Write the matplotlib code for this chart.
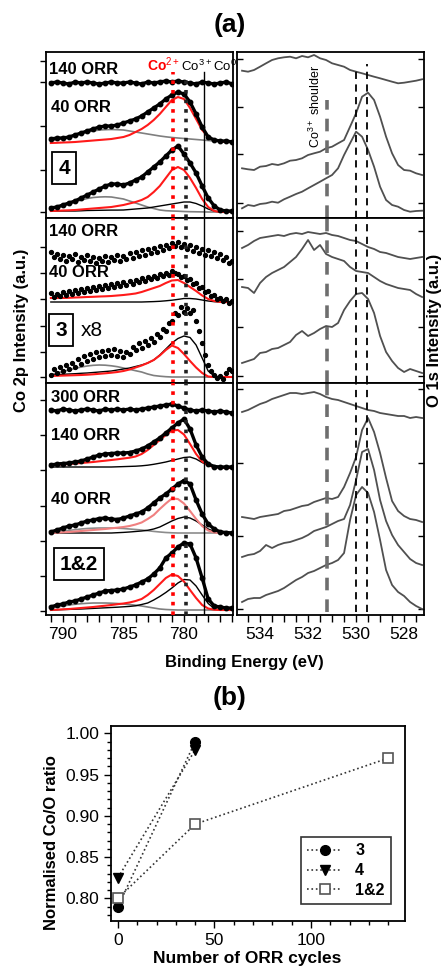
import matplotlib
matplotlib.use("Agg")
import matplotlib.pyplot as plt
from matplotlib.ticker import MultipleLocator

plt.rcParams['font.family'] = ['Liberation Sans', 'DejaVu Sans']
plt.rcParams['mathtext.fontset'] = 'custom'
plt.rcParams['mathtext.rm'] = 'Liberation Sans'
plt.rcParams['mathtext.bf'] = 'Liberation Sans:bold'

W, H = 446, 966

# ---------------- data: Co 2p (left column), energies in eV ----------------
e_co = [791.0 - 0.5 * i for i in range(31)]      # 791 ... 776
e_co_fine = [791.0 - 0.25 * i for i in range(61)]  # 791 ... 776 (noisy x8 sample)

# sample 4
s4_140 = [135, 136, 135, 134, 136, 135, 136, 135, 134, 135, 136, 135, 135, 136, 135, 134,
          136, 135, 136, 137, 136, 137, 136, 135, 134, 136, 135, 134, 135, 136, 134]
s4_40 = [79, 80, 80, 81, 83, 85, 87, 89, 91, 92, 92, 93, 95, 97, 99, 102, 106, 110, 114, 119,
         123, 126, 124, 116, 104, 91, 81, 78, 77, 77, 76]
s4_40_red = [75, 75.2, 75.5, 75.7, 76, 76.5, 77, 77.5, 78, 78.5, 79, 80, 81, 83, 86, 89, 93, 98,
             104, 111, 118, 121, 119, 110, 99, 88, 81, 78, 76.5, 76, 76]
s4_40_gray = [77, 78.5, 80, 81.5, 83, 84.5, 86, 87, 88, 88.3, 88.5, 88.3, 88, 87, 86, 85, 84, 83,
              82, 81.2, 80.5, 80, 79.5, 79, 78.5, 78, 77.5, 77, 76.5, 76.2, 76]
s4_0 = [10, 11, 13, 15, 17, 20, 23, 26, 29, 32, 34, 34, 33, 35, 38, 41, 46, 51, 56, 62, 68, 72,
        64, 55, 45, 32, 20, 12, 8, 7, 7]
s4_0_red = [7, 7.2, 7.5, 7.7, 8, 8.5, 9, 9.5, 10, 10.5, 11, 12, 13, 14.5, 16, 18, 21, 26, 32, 40,
            48, 51, 48, 40, 30, 19, 11, 7, 6, 6, 6]
s4_0_gray = [9, 10.5, 12, 14, 16, 18, 19.5, 20.5, 21, 21.2, 21, 20, 19, 17, 15, 13, 11, 9.5, 8,
             7.3, 7, 6.8, 6.5, 6.3, 6.2, 6.1, 6, 6, 6, 6, 6]
s4_0_black = [7, 7, 7, 7, 7, 7.2, 7.5, 7.6, 7.7, 7.8, 7.9, 7.9, 8, 8.5, 9, 9.5, 10, 11, 12, 13,
              14, 15, 16, 16, 14.5, 12, 9, 7, 6, 6, 6]

# sample 3 (x8)
s3_140 = [131, 126, 129, 124, 128, 122, 127, 124, 129, 121, 126, 123, 128, 122, 126, 120, 125,
          122, 127, 121, 126, 123, 128, 122, 127, 124, 130, 125, 131, 127, 133, 128, 134, 130,
          135, 131, 137, 133, 138, 135, 140, 137, 141, 136, 139, 134, 138, 132, 136, 130, 134,
          128, 133, 127, 131, 125, 129, 123, 126, 120, 122]
s3_40 = [90, 86, 89, 87, 91, 88, 92, 89, 93, 90, 94, 91, 95, 92, 96, 93, 97, 94, 98, 95, 99, 96,
         100, 97, 101, 98, 102, 99, 103, 101, 105, 102, 106, 104, 107, 105, 109, 107, 110, 108,
         112, 110, 109, 106, 107, 103, 104, 99, 100, 95, 96, 91, 92, 87, 88, 84, 85, 82, 84, 80, 82]
s3_40_red = [85, 85, 85, 85.2, 85.5, 85.7, 86, 86.2, 86.5, 86.7, 87, 87.5, 88, 88.7, 89.5, 91,
             93, 95, 97, 100, 102.5, 103, 100, 96, 92, 87.5, 84, 82, 81, 81, 81]
s3_40_black = [81, 81, 81, 81, 81, 81, 81, 81, 81, 81, 81, 81, 81, 81, 81, 81, 81.2, 81.4, 81.7,
               82.2, 82.8, 83.6, 84.5, 84.5, 84, 83, 82, 81.3, 81, 81, 81]
s3_0 = [8, 14, 10, 16, 12, 18, 14, 20, 16, 24, 19, 27, 22, 29, 24, 31, 26, 32, 27, 33, 28, 34,
        27, 32, 26, 31, 29, 36, 33, 40, 35, 42, 38, 45, 41, 49, 46, 54, 52, 60, 62, 70, 68, 76,
        71, 75, 70, 73, 62, 52, 40, 28, 18, 12, 8, 5, 7, 4, 10, 14, 12]
s3_0_black = [8, 8.3, 8.7, 9, 9.3, 9.7, 10, 10.5, 11, 11.5, 12, 13, 14, 15, 16.5, 18, 20, 23, 28,
              34, 40, 44.5, 47, 45.5, 38, 25, 12, 7, 6, 6, 6]
s3_0_red = [7, 7.2, 7.4, 7.6, 7.8, 8, 8.3, 8.7, 9.2, 9.7, 10.3, 11, 12, 13.5, 15.5, 17.5, 20, 23,
            27.5, 33, 37.5, 35, 29, 22, 15.5, 10, 6.5, 6, 6, 6, 6]
s3_0_gray = [8.5, 10, 11.5, 13, 14.5, 16, 17, 17.7, 18, 17.8, 17.2, 16.3, 15, 13.7, 12.3, 11, 9,
             7.5, 6.8, 6.3, 6, 6, 6, 6, 6, 6, 6, 6, 6, 6, 6]

# samples 1&2
s12_300 = [205, 204, 206, 205, 204, 205, 206, 205, 204, 206, 205, 206, 205, 206, 205, 206, 207,
           208, 209, 210, 211, 209, 207, 205, 204, 205, 204, 203, 204, 203, 202]
s12_140 = [150, 151, 151.5, 152, 153, 154, 156, 158, 160, 161, 161.5, 162, 162, 162.5, 164, 166,
           169, 173, 177, 182, 187, 192, 196, 186, 170, 158, 151, 148.5, 148, 148, 148]
s12_140_red = [150, 150.3, 150.7, 151, 151.5, 152, 152.5, 153, 153.7, 154.3, 155, 155.7, 156.5,
               157.3, 158.5, 161, 165, 170, 175, 180, 184.5, 185, 180.5, 171, 161, 153.5, 149.5,
               148, 147.5, 147, 147]
s12_140_black = [148, 148, 148, 148, 148, 148, 148, 148, 148, 148, 148, 148.2, 148.4, 148.6,
                 148.8, 149.2, 149.8, 150.7, 151.8, 153, 154.5, 156, 157.5, 158, 156, 152.5,
                 149.5, 148, 147.5, 147.3, 147]
s12_40 = [83, 85, 87, 89, 90, 92, 94, 95, 96.5, 97, 96, 95.5, 97, 99, 101, 103, 107, 112, 117,
          121, 126, 131, 134.5, 131, 115, 101, 91, 86, 83, 82.5, 82]
s12_40_pink = [82, 82.3, 82.7, 83, 83.5, 84, 84.5, 85, 85.5, 86, 86.7, 87.3, 88, 89, 90.5, 92.5,
               96, 100, 106, 111.5, 116.5, 116, 111.5, 104, 96, 89, 84.5, 82.5, 82, 82, 82]
s12_40_black = [82, 82, 82, 82, 82, 82, 82, 82, 82, 82, 82, 82.3, 82.6, 83, 83.5, 84, 84.7, 86,
                88, 91, 94, 96.5, 98, 97, 94, 90, 86, 83.5, 82.5, 82, 82]
s12_40_gray = [83, 83.5, 84, 84.7, 85.3, 86, 86.5, 86.8, 87, 87, 87, 86.8, 86.5, 86, 85.5, 85,
               84.3, 83.6, 83, 82.5, 82.2, 82, 82, 82, 82, 82, 82, 82, 82, 82, 82]
s12_0 = [8, 10, 11, 13, 14, 16, 18, 20, 22, 24, 24.5, 25, 26, 28, 30, 33, 36, 41, 47, 57, 62, 68,
         72, 71, 57, 37, 16, 9, 8, 7, 7]
s12_0_red = [5, 5.3, 5.7, 6, 6.5, 7, 7.5, 8, 8.7, 9.3, 10, 10.8, 11.5, 12.5, 14, 16, 20, 25, 31,
             37, 40.5, 39, 33.5, 25, 17, 10, 6.5, 5.3, 5, 5, 5]
s12_0_black = [5, 5.2, 5.4, 5.6, 5.8, 6, 6.3, 6.6, 6.9, 7.2, 7.5, 7.8, 8.2, 8.6, 9.2, 10.5, 12,
               15, 18.5, 22.5, 27, 32, 35.5, 35, 29, 20, 11.5, 6.5, 5, 5, 5]
s12_0_gray = [7, 8, 9, 10, 10.7, 11.3, 11.7, 12, 12, 12, 11.8, 11.5, 11, 10.5, 9.8, 9, 8, 7, 6,
              5.5, 5.2, 5, 5, 5, 5, 5, 5, 5, 5, 5, 5]

# ---------------- data: O 1s (right column) ----------------
e_o = [534.75 - 0.25 * i for i in range(31)]  # 534.75 ... 527.25

o4_140 = [147.3, 146.3, 148, 151.3, 154.7, 158, 159.7, 160.7, 161.3, 159.7, 162, 160.7, 163,
          159.7, 158, 154.7, 153, 151.3, 148, 146.3, 144.7, 143, 141.3, 139.7, 138, 136.3,
          134.7, 135.3, 136.3, 137.3, 138.7]
o4_40 = [49.7, 48.7, 48, 51.3, 52, 54, 53, 54.7, 57.3, 58, 59.7, 63, 64.7, 66.3, 69.7, 71.3,
         74.7, 78, 91.3, 104.7, 121.3, 125.3, 118, 101.3, 81.3, 64.7, 53, 48, 47.3, 44.7, 43]
o4_0 = [9.7, 13, 12, 14, 14.7, 16.3, 15.3, 18.7, 21.3, 24, 26.3, 29.7, 33, 36.3, 39.7, 43, 49.7,
        63, 74.7, 86.3, 81.3, 68, 51.3, 31.3, 18, 13, 11.3, 8, 6.3, 7, 7.3]

o3_140 = [135, 138, 142, 145, 146, 147, 148, 147, 149, 150, 149, 151, 150, 149, 150, 148, 147,
          145, 143, 142, 139, 136, 134, 131, 130, 128, 126, 125, 124, 125, 126]
o3_40 = [96, 95, 90, 100, 106, 110, 113, 116, 121, 126, 134, 143, 133, 138, 129, 126, 124, 122,
         116, 112, 111, 110, 106, 102, 99, 97, 95, 94, 93, 89, 86]
o3_0 = [20, 22, 24, 30, 31, 34, 35, 38, 41, 48, 52, 47, 50, 54, 57, 56, 60, 73, 82, 89, 90, 84,
        70, 47, 31, 22, 15, 11, 14, 12, 10]

o12_300 = [203, 205, 208, 211, 213, 216, 218, 220, 222, 222, 221, 222, 223, 221, 218, 216, 215,
           213, 211, 209, 207, 205, 204, 202, 201, 200, 199, 199, 197, 198, 197]
o12_140 = [98, 97, 96, 98, 99, 100, 101, 104, 105, 107, 109, 110, 113, 115, 117, 116, 118, 128,
           142, 158, 185, 197, 183, 162, 137, 114, 104, 99, 96, 95, 93]
o12_40 = [58, 60, 61, 64, 70, 67, 70, 72, 73, 75, 77, 80, 84, 86, 88, 91, 94, 96, 110, 135, 163,
          166, 145, 115, 94, 80, 70, 63, 56, 52, 50]
o12_0 = [13, 16, 17, 17, 20, 22, 24, 27, 31, 35, 38, 42, 44, 47, 50, 52, 55, 62, 95, 120, 128,
         122, 103, 75, 45, 30, 23, 19, 13, 9, 6]

# reference energies
co2_e, co3_e, co0_e = 780.88, 779.86, 778.35
o_shoulder_e, o_lines_e = 531.22, [530.0, 529.56]

# ---------------- data: panel (b) ----------------
cyc_3, ratio_3 = [0, 40], [0.79, 0.99]
cyc_4, ratio_4 = [0, 40], [0.825, 0.98]
cyc_12, ratio_12 = [0, 40, 140], [0.80, 0.89, 0.97]


def rect(x0, y0, x1, y1):
    return [x0 / W, 1 - y1 / H, (x1 - x0) / W, (y1 - y0) / H]


fig = plt.figure(figsize=(W / 100, H / 100), dpi=100)

rows = [(52, 218), (218, 383), (383, 615)]
left_ticks = [[157, 136, 92, 48, 6], [136, 110, 84, 57, 31, 6], [215, 180, 145, 109, 74, 39, 4]]
right_ticks = [[159, 111, 64, 15], [152, 104, 56, 7], [226, 152, 79, 6]]

left_axes, right_axes = [], []
for i, (top, bot) in enumerate(rows):
    axl = fig.add_axes(rect(46, top, 233, bot))
    axl.set_xlim(791.4, 775.95)
    axl.set_ylim(0, bot - top)
    axl.set_yticks(left_ticks[i])
    axl.set_yticklabels([])
    axl.xaxis.set_major_locator(MultipleLocator(5))
    axl.xaxis.set_minor_locator(MultipleLocator(1))
    axl.tick_params(axis='y', direction='out', length=4, width=1)
    axl.tick_params(axis='x', which='both', direction='out', length=5, width=1, labelsize=12.5)
    if i < 2:
        axl.set_xticklabels([])
    axr = fig.add_axes(rect(237, top, 424, bot))
    axr.set_xlim(534.96, 527.17)
    axr.set_ylim(0, bot - top)
    axr.set_yticks(right_ticks[i])
    axr.set_yticklabels([])
    axr.xaxis.set_major_locator(MultipleLocator(2))
    axr.xaxis.set_minor_locator(MultipleLocator(0.5))
    axr.tick_params(axis='y', direction='in', length=4, width=1, left=True, right=True)
    axr.tick_params(axis='x', which='both', direction='out', length=5, width=1, labelsize=12.5)
    if i < 2:
        axr.set_xticklabels([])
    for a in (axl, axr):
        for s in a.spines.values():
            s.set_linewidth(1.3)
    left_axes.append(axl)
    right_axes.append(axr)

ax4, ax3, ax12 = left_axes


def dots(ax, y, e=e_co):
    ax.plot(e, y, '-', color='black', lw=2.4, zorder=3)
    ax.plot(e, y, 'o', color='black', ms=3.2, zorder=3)


def fit(ax, y, c, lw=1.2):
    ax.plot(e_co, y, '-', color=c, lw=lw, zorder=2)


# sample 4
dots(ax4, s4_140)
dots(ax4, s4_40)
fit(ax4, s4_40_gray, '#7f7f7f')
fit(ax4, s4_40_red, '#ff1a1a', 1.5)
dots(ax4, s4_0)
fit(ax4, s4_0_gray, '#7f7f7f')
fit(ax4, s4_0_black, 'black', 1.0)
fit(ax4, s4_0_red, '#ff1a1a', 1.5)

# sample 3
ax3.plot(e_co_fine, s3_140, 'o', color='black', ms=2.8, zorder=3)
ax3.plot(e_co_fine, s3_40, 'o', color='black', ms=2.8, zorder=3)
fit(ax3, s3_40_black, 'black', 1.0)
fit(ax3, s3_40_red, '#ff1a1a', 1.5)
ax3.plot(e_co_fine, s3_0, 'o', color='black', ms=2.8, zorder=3)
fit(ax3, s3_0_gray, '#7f7f7f')
fit(ax3, s3_0_black, 'black', 1.0)
fit(ax3, s3_0_red, '#ff1a1a', 1.5)

# samples 1&2
dots(ax12, s12_300)
dots(ax12, s12_140)
fit(ax12, s12_140_black, 'black', 1.0)
fit(ax12, s12_140_red, '#ff1a1a', 1.5)
dots(ax12, s12_40)
fit(ax12, s12_40_gray, '#8c8c8c')
fit(ax12, s12_40_black, 'black', 1.0)
fit(ax12, s12_40_pink, '#f08080', 1.5)
dots(ax12, s12_0)
fit(ax12, s12_0_gray, '#7f7f7f')
fit(ax12, s12_0_black, 'black', 1.0)
fit(ax12, s12_0_red, '#ff1a1a', 1.5)

# reference lines, left
for i, a in enumerate(left_axes):
    h = rows[i][1] - rows[i][0]
    top_red = 146 / h if i == 0 else 1
    top_blk = 140 / h if i == 0 else 1
    a.axvline(co2_e, ymax=top_red, color='red', ls=':', lw=2.6, zorder=4)
    a.axvline(co3_e, ymax=top_blk, color='#222222', ls=':', lw=2.6, zorder=4)
    a.axvline(co0_e, ymax=top_red, color='black', ls='-', lw=1.0, zorder=4)

# right column
for a, curves in zip(right_axes, [(o4_140, o4_40, o4_0), (o3_140, o3_40, o3_0),
                                  (o12_300, o12_140, o12_40, o12_0)]):
    for y in curves:
        a.plot(e_o, y, '-', color='#505050', lw=1.3)

for i, a in enumerate(right_axes):
    h = rows[i][1] - rows[i][0]
    ymin = 3 / h if i == 2 else 0
    a.axvline(o_shoulder_e, ymin=ymin, ymax=118 / h if i == 0 else 1, color='#6e6e6e',
              ls=(0, (3.5, 2.5)), lw=2.6)
    a.axvline(o_lines_e[0], ymin=ymin, ymax=148 / h if i == 0 else 1, color='black',
              ls=(0, (4, 3)), lw=1.3)
    a.axvline(o_lines_e[1], ymin=ymin, ymax=154 / h if i == 0 else 1, color='black',
              ls=(0, (4, 3)), lw=1.3)


def ft(x, y, s, **kw):
    fig.text(x / W, 1 - y / H, s, **kw)


lab = dict(fontsize=12, fontweight='bold', va='center', ha='left')
ft(49, 69, '140 ORR', **lab)
ft(51, 108, '40 ORR', **lab)
ft(49, 231, '140 ORR', **lab)
ft(49, 273, '40 ORR', **lab)
ft(51, 397, '300 ORR', **lab)
ft(51, 436, '140 ORR', **lab)
ft(51, 500, '40 ORR', **lab)

box = dict(boxstyle='square,pad=0.3', fc='white', ec='black', lw=1.3)
ft(64, 168, '4', fontsize=15, fontweight='bold', ha='center', va='center', bbox=box)
ft(61, 330, '3', fontsize=15, fontweight='bold', ha='center', va='center', bbox=box)
ft(92, 330, 'x8', fontsize=15, ha='center', va='center')
ft(79, 564, '1&2', fontsize=15, fontweight='bold', ha='center', va='center', bbox=box)

ft(147, 71, r'Co$^{2+}$', fontsize=10, fontweight='bold', color='red', ha='left', va='baseline')
ft(181, 71, r'Co$^{3+}$', fontsize=9.5, ha='left', va='baseline')
ft(213, 71, r'Co$^{0}$', fontsize=9.5, ha='left', va='baseline')
ft(315, 106, r'Co$^{3+}$ shoulder', fontsize=9, rotation=90, ha='center', va='center')

ft(230, 25, '(a)', fontsize=19, fontweight='bold', ha='center', va='center')
ft(230, 698, '(b)', fontsize=19, fontweight='bold', ha='center', va='center')
ft(22, 330, 'Co 2p Intensity (a.u.)', fontsize=12, fontweight='bold', rotation=90,
   ha='center', va='center')
ft(435, 330, 'O 1s Intensity (a.u.)', fontsize=12, fontweight='bold', rotation=90,
   ha='center', va='center')
ft(244, 662, 'Binding Energy (eV)', fontsize=12, fontweight='bold', ha='center', va='center')

# ---------------- panel (b) ----------------
axb = fig.add_axes(rect(111, 726, 405, 921))
axb.plot(cyc_3, ratio_3, ':', color='#333333', lw=1.2, marker='o', ms=7, mfc='black',
         mec='black', label='3')
axb.plot(cyc_4, ratio_4, ':', color='#333333', lw=1.2, marker='v', ms=7.5, mfc='black',
         mec='black', label='4')
axb.plot(cyc_12, ratio_12, ':', color='#333333', lw=1.2, marker='s', ms=7.5, mfc='white',
         mec='#555555', mew=1.2, label='1&2')
axb.set_xlim(-3.6, 148.7)
axb.set_ylim(0.7725, 1.009)
axb.xaxis.set_major_locator(MultipleLocator(50))
axb.xaxis.set_minor_locator(MultipleLocator(10))
axb.yaxis.set_major_locator(MultipleLocator(0.05))
axb.yaxis.set_minor_locator(MultipleLocator(0.01))
axb.yaxis.set_major_formatter(plt.FormatStrFormatter('%.2f'))
axb.tick_params(which='both', direction='out', labelsize=12.5, top=False, right=False)
axb.tick_params(which='major', length=5, width=1)
axb.tick_params(which='minor', length=3, width=1)
for s in axb.spines.values():
    s.set_linewidth(1.3)
leg = axb.legend(loc='upper left', bbox_to_anchor=(0.646, 0.431), borderaxespad=0,
                 fancybox=False, edgecolor='black', handlelength=2.2,
                 prop={'weight': 'bold', 'size': 11.5}, labelspacing=0.3)
leg.get_frame().set_linewidth(1.2)
ft(52, 843, 'Normalised Co/O ratio', fontsize=12, fontweight='bold', rotation=90,
   ha='center', va='center')
ft(247, 958, 'Number of ORR cycles', fontsize=12.5, fontweight='bold', ha='center',
   va='center')

fig.savefig('out.png', dpi=100)
